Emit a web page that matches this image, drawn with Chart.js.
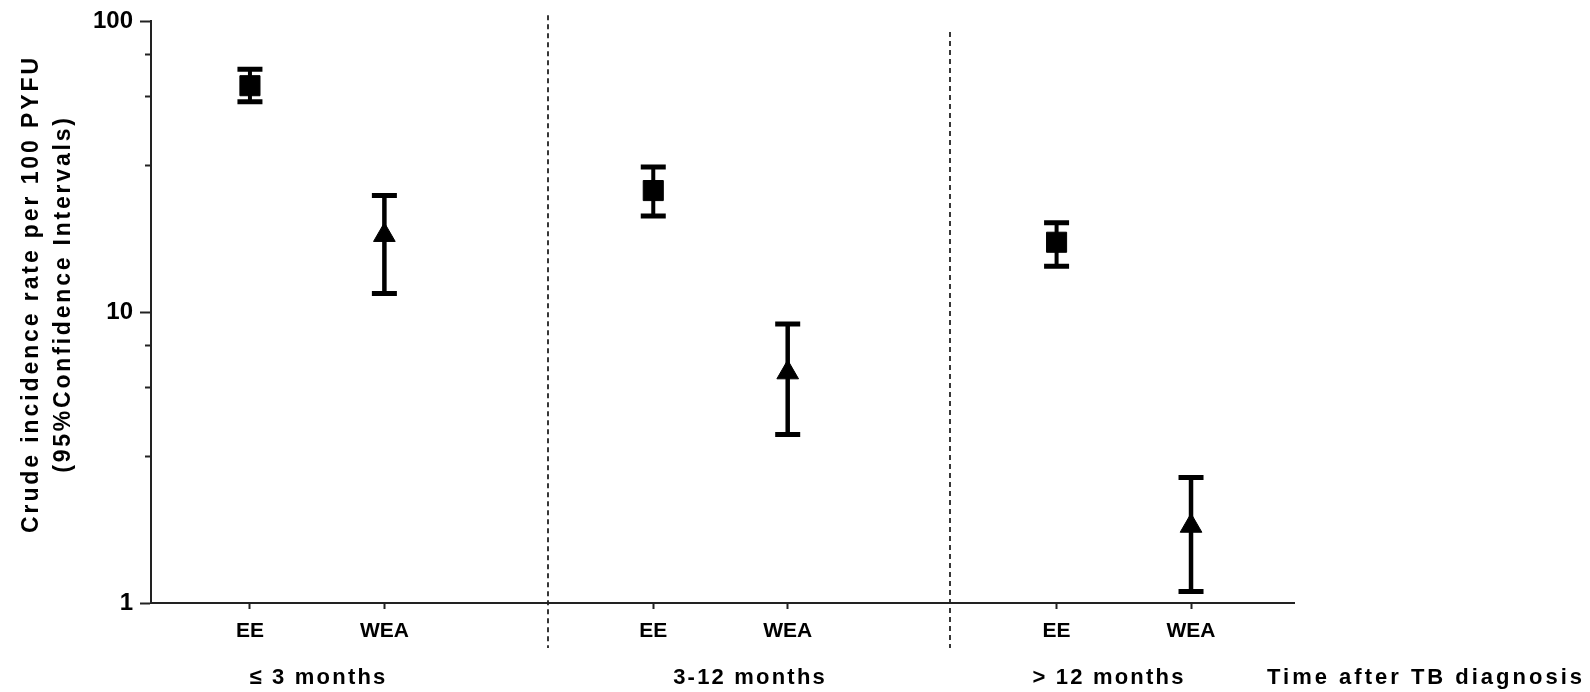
<!DOCTYPE html>
<html>
<head>
<meta charset="utf-8">
<script src="https://cdn.jsdelivr.net/npm/chart.js@4.4.0/dist/chart.umd.min.js"></script>
<style>
  html, body { margin: 0; padding: 0; background: #fff; }
  #wrap { width: 1590px; height: 692px; }
</style>
</head>
<body>
<div id="wrap"><canvas id="rates"></canvas></div>
<script>
// categories on the x axis, and where they sit (gap between time groups)
var categories = ["EE", "WEA", "EE", "WEA", "EE", "WEA"];
var groups = ["\u2264 3 months", "3-12 months", "> 12 months"];
var groupCenters = [1.51, 4.72, 7.39];
var eePos = [1, 4, 7];
var weaPos = [2, 5, 8];

// crude incidence rate per 100 PYFU with 95% CI
var eeRate = [60.1, 26.2, 17.4];
var eeUpper = [68.5, 31.6, 20.3];
var eeLower = [52.9, 21.4, 14.4];
var weaRate = [18.4, 6.2, 1.84];
var weaUpper = [25.2, 9.1, 2.70];
var weaLower = [11.6, 3.8, 1.095];

var yTicks = [1, 10, 100];
var yMinorTicks = [3.2, 5.5, 7.7, 32, 55, 77];

// dashed separators between groups
var dividers = [3.22, 6.21];
var dividerTop = [105, 92];
var dividerBottom = 0.7;

var FONT = "'Liberation Sans', Arial, sans-serif";

var bars = [
  { pos: eePos, hi: eeUpper, lo: eeLower, stem: 4 },
  { pos: weaPos, hi: weaUpper, lo: weaLower, stem: 4.5 }
];

var extras = {
  id: 'extras',
  beforeDraw: function(chart) {
    chart.ctx.letterSpacing = '0px';
  },
  beforeDatasetsDraw: function(chart) {
    var ctx = chart.ctx, x = chart.scales.x, y = chart.scales.y;
    ctx.save();
    ctx.strokeStyle = '#222';
    ctx.lineWidth = 1.8;
    ctx.setLineDash([5, 4]);
    dividers.forEach(function(d, i) {
      var px = Math.round(x.getPixelForValue(d));
      ctx.beginPath();
      ctx.moveTo(px, y.getPixelForValue(dividerTop[i]));
      ctx.lineTo(px, y.getPixelForValue(dividerBottom));
      ctx.stroke();
    });
    ctx.setLineDash([]);
    ctx.strokeStyle = '#000';
    bars.forEach(function(b) {
      b.pos.forEach(function(p, i) {
        var px = x.getPixelForValue(p);
        var hi = y.getPixelForValue(b.hi[i]);
        var lo = y.getPixelForValue(b.lo[i]);
        ctx.lineWidth = b.stem;
        ctx.beginPath();
        ctx.moveTo(px, hi); ctx.lineTo(px, lo);
        ctx.stroke();
        ctx.lineWidth = 5;
        ctx.beginPath();
        ctx.moveTo(px - 12.5, hi); ctx.lineTo(px + 12.5, hi);
        ctx.moveTo(px - 12.5, lo); ctx.lineTo(px + 12.5, lo);
        ctx.stroke();
      });
    });
    ctx.restore();
  },
  afterDatasetsDraw: function(chart) {
    // x scale is drawn after this (z: 1), so its labels get the spacing
    chart.ctx.letterSpacing = '2.2px';
  },
  afterDraw: function(chart) {
    var ctx = chart.ctx, x = chart.scales.x;
    ctx.save();
    ctx.fillStyle = '#000';
    ctx.font = 'bold 22px ' + FONT;
    ctx.textBaseline = 'alphabetic';
    ctx.textAlign = 'center';
    ctx.letterSpacing = '2.2px';
    groups.forEach(function(g, i) {
      ctx.fillText(g, x.getPixelForValue(groupCenters[i]), 684);
    });
    ctx.letterSpacing = '3px';
    ctx.textAlign = 'right';
    ctx.fillText('Time after TB diagnosis', chart.width - 5, 684);

    // y axis title, two lines
    ctx.font = 'bold 23px ' + FONT;
    ctx.letterSpacing = '2.9px';
    ctx.textAlign = 'center';
    ctx.translate(0, 294);
    ctx.rotate(-Math.PI / 2);
    ctx.fillText('Crude incidence rate per 100 PYFU', 0, 38);
    ctx.letterSpacing = '2.8px';
    ctx.fillText('(95%Confidence Intervals)', 0, 70);
    ctx.restore();
  }
};

var ctx = document.getElementById("rates").getContext("2d");

new Chart(ctx, {
  type: "scatter",
  data: {
    datasets: [{
        label: "EE",
        data: eePos.map(function(p, i) { return { x: p, y: eeRate[i] }; }),
        pointStyle: 'rect',
        pointRadius: 14.2,
        borderWidth: 1,
        borderColor: '#000',
        backgroundColor: '#000'
      },
      {
        label: "WEA",
        data: weaPos.map(function(p, i) { return { x: p, y: weaRate[i] }; }),
        pointStyle: 'triangle',
        pointRadius: 12.5,
        borderWidth: 1,
        borderColor: '#000',
        backgroundColor: '#000'
      }
    ]
  },
  options: {
    responsive: true,
    maintainAspectRatio: false,
    animation: false,
    events: [],
    layout: {
      padding: { top: 20, right: 296, bottom: 0, left: 0 }
    },
    plugins: {
      legend: { display: false },
      tooltip: { enabled: false }
    },
    scales: {
      x: {
        type: 'linear',
        min: 0.264,
        max: 8.766,
        z: 1,
        afterBuildTicks: function(scale) {
          scale.ticks = eePos.concat(weaPos).sort().map(function(v) { return { value: v }; });
        },
        afterFit: function(scale) { scale.height = 89; },
        border: { color: '#222', width: 2 },
        grid: {
          drawOnChartArea: false,
          tickLength: 6,
          tickWidth: 2,
          tickColor: '#222'
        },
        ticks: {
          padding: 10,
          maxRotation: 0,
          autoSkip: false,
          color: '#000',
          font: { size: 21, weight: 'bold', family: FONT },
          callback: function(v, i) { return categories[i]; }
        }
      },
      y: {
        type: 'logarithmic',
        min: 1,
        max: 100,
        weight: 1,
        afterBuildTicks: function(scale) {
          scale.ticks = yTicks.map(function(v) { return { value: v }; });
        },
        afterFit: function(scale) { scale.width = 151; },
        border: { color: '#222', width: 2 },
        grid: {
          drawOnChartArea: false,
          tickLength: 11,
          tickWidth: 2,
          tickColor: '#222'
        },
        ticks: {
          padding: 7,
          color: '#000',
          font: { size: 24, weight: 'bold', family: FONT },
          callback: function(v) { return String(v); }
        }
      },
      yMinor: {
        type: 'logarithmic',
        position: 'left',
        min: 1,
        max: 100,
        weight: 0,
        afterBuildTicks: function(scale) {
          scale.ticks = yMinorTicks.map(function(v) { return { value: v }; });
        },
        afterFit: function(scale) { scale.width = 0; },
        border: { display: false },
        grid: {
          drawOnChartArea: false,
          tickLength: 6,
          tickWidth: 2,
          tickColor: '#222'
        },
        ticks: { display: false }
      }
    }
  },
  plugins: [extras]
});
</script>
</body>
</html>
